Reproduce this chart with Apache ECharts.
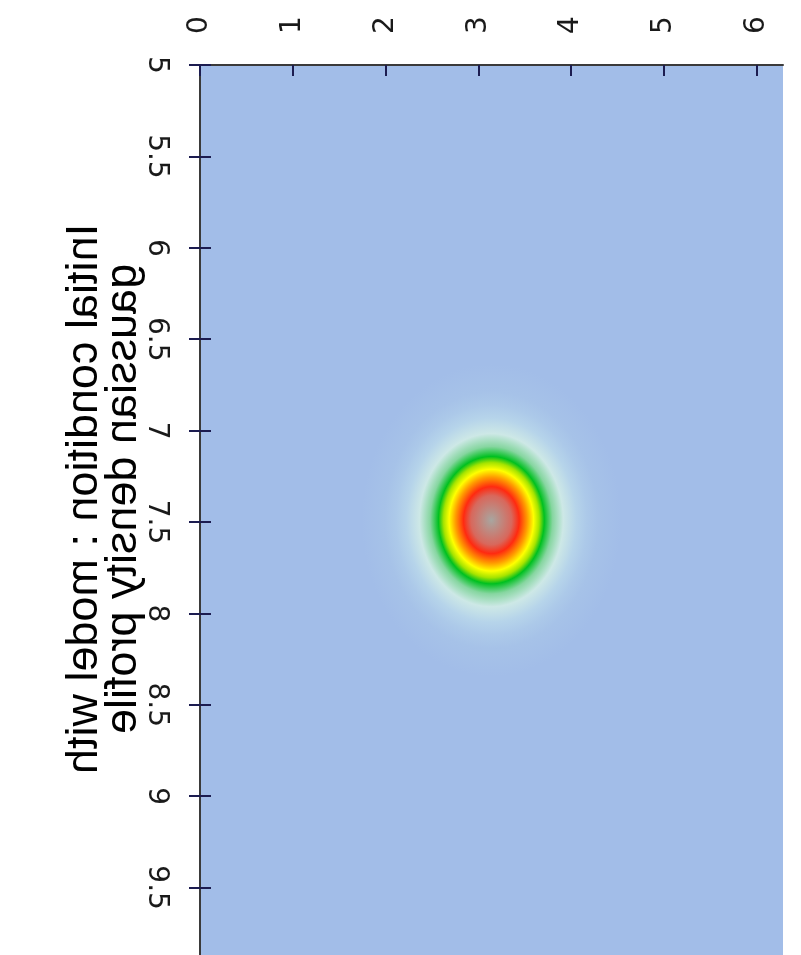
<!DOCTYPE html>
<html>
<head>
<meta charset="utf-8">
<script src="https://cdn.jsdelivr.net/npm/echarts@6/dist/echarts.min.js"></script>
<style>html,body{margin:0;padding:0;background:#fff;overflow:hidden}#c{width:801px;height:1000px}</style>
</head>
<body>
<div id="c"></div>
<script>
// ---- data ----
const xRange = [0, 6.2832];            // horizontal axis (0 .. 2*pi)
const yRange = [5, 10];                // vertical axis (5 at top)
const xTickStep = 1;
const yTickStep = 0.5;
const titleLines = ['Initial condition : model with', 'gaussian density profile'];

// gaussian blob: centre and density profile (level vs. radius along each axis)
const blobCenter = [3.14, 7.49];
const profileLevel = [1.0, 0.9, 0.8, 0.7, 0.6, 0.5, 0.4, 0.3, 0.2, 0.1, 0.05, 0.02, 0];
const profileRx = [0, 0.22, 0.30, 0.385, 0.455, 0.515, 0.57, 0.66, 0.775, 0.915, 1.03, 1.15, 1.40];
const profileRy = [0, 0.132, 0.184, 0.235, 0.276, 0.314, 0.348, 0.401, 0.473, 0.559, 0.625, 0.703, 0.855];

// colour scale (density level -> colour)
const paletteLevel = [0, 0.1, 0.2, 0.3, 0.4, 0.5, 0.6, 0.7, 0.8, 0.9, 1.0];
const paletteColor = ['#a2bde8', '#b6d4ea', '#cde8e6', '#86d6a0', '#00c020', '#a6e400', '#ffff00', '#ff9a00', '#ff2a10', '#d8685c', '#a8a6a0'];

function levelColor(v) {
  for (let i = 0; i < paletteLevel.length - 1; i++) {
    if (v <= paletteLevel[i + 1]) {
      const t = (v - paletteLevel[i]) / (paletteLevel[i + 1] - paletteLevel[i]);
      return echarts.color.lerp(t, [paletteColor[i], paletteColor[i + 1]]);
    }
  }
  return paletteColor[paletteColor.length - 1];
}

const chart = echarts.init(document.getElementById('c'), null, {renderer: 'canvas'});

const axisLineStyle = {color: '#3a3a3a', width: 2};
const tickStyle = {color: '#1c1c50', width: 2};
const labelFont = {fontFamily: 'DejaVu Sans', fontSize: 28, color: '#1a1a1a'};

const nLast = profileRx.length - 1;

const option = {
  backgroundColor: '#ffffff',
  animation: false,
  grid: {
    left: 200, right: 18, top: 65, bottom: 21,
    show: true, backgroundColor: paletteColor[0], borderWidth: 0
  },
  xAxis: [
    {
      type: 'value', position: 'top', min: xRange[0], max: xRange[1], interval: xTickStep,
      axisLine: {show: true, lineStyle: axisLineStyle},
      axisTick: {show: true, inside: true, length: 11, lineStyle: tickStyle},
      axisLabel: Object.assign({rotate: -90, margin: 31, showMaxLabel: false}, labelFont),
      splitLine: {show: false}
    },
    {
      type: 'value', position: 'bottom', min: xRange[0], max: xRange[1], interval: xTickStep,
      axisLine: {show: true, lineStyle: axisLineStyle},
      axisTick: {show: true, inside: true, length: 11, lineStyle: tickStyle},
      axisLabel: {show: false}, splitLine: {show: false}
    }
  ],
  yAxis: [
    {
      type: 'value', position: 'left', inverse: true, min: yRange[0], max: yRange[1], interval: yTickStep,
      axisLine: {show: true, lineStyle: axisLineStyle},
      axisTick: {show: true, inside: true, length: 11, lineStyle: tickStyle},
      axisLabel: Object.assign({rotate: -90, margin: 30, showMaxLabel: false}, labelFont),
      splitLine: {show: false}
    },
    {
      type: 'value', position: 'right', inverse: true, min: yRange[0], max: yRange[1], interval: yTickStep,
      axisLine: {show: true, lineStyle: axisLineStyle},
      axisTick: {show: true, inside: true, length: 11, lineStyle: tickStyle},
      axisLabel: {show: false}, splitLine: {show: false}
    }
  ],
  series: [{
    type: 'custom',
    xAxisIndex: 0, yAxisIndex: 0,
    clip: true,
    data: [[blobCenter[0], blobCenter[1], profileRx[nLast], profileRy[nLast]]],
    renderItem: function (params, api) {
      const c = api.coord([api.value(0), api.value(1)]);
      const sz = api.size([api.value(2), api.value(3)]);
      const rx = Math.abs(sz[0]);
      const ry = Math.abs(sz[1]);
      const stops = [];
      for (let i = 0; i < profileRx.length; i++) {
        stops.push({offset: profileRx[i] / profileRx[nLast], color: levelColor(profileLevel[i])});
      }
      return {
        type: 'circle',
        x: c[0], y: c[1],
        scaleX: 1, scaleY: ry / rx,
        shape: {cx: 0, cy: 0, r: rx},
        style: {fill: new echarts.graphic.RadialGradient(0.5, 0.5, 0.5, stops)},
        silent: true
      };
    }
  }],
  graphic: [{
    type: 'text',
    x: 65, y: 499,
    scaleX: -1,
    rotation: Math.PI / 2,
    style: {
      text: titleLines.join('\n'),
      font: '45px "Liberation Sans", Arial, sans-serif',
      fill: '#000',
      align: 'center',
      verticalAlign: 'top',
      lineHeight: 39
    }
  }]
};

chart.setOption(option);
</script>
</body>
</html>
